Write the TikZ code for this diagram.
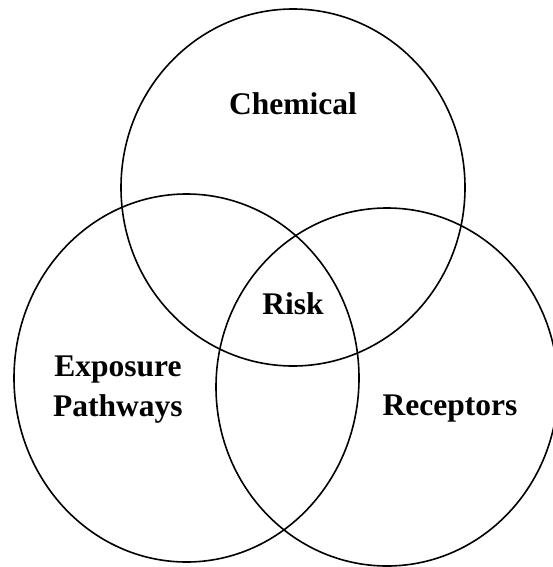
\documentclass[tikz,border=0pt]{standalone}
\usepackage{fontspec}
\setmainfont{Liberation Serif}
\begin{document}
\begin{tikzpicture}[x=1pt,y=-1pt,
  ring/.style={draw=black,line width=1.6pt},
  lbl/.style={font=\bfseries\fontsize{31.5}{40}\selectfont,align=center,inner sep=0pt}]
\useasboundingbox (0,0) rectangle (553,567);
\clip (0,0) rectangle (553,567);
\draw[ring] (293,187.5) ellipse [x radius=172, y radius=178.5];
\draw[ring] (186.5,378) ellipse [x radius=172.5, y radius=184];
\draw[ring] (387,387) ellipse [x radius=171, y radius=179];
\node[lbl] (chem) at (293,104) {Chemical};
\node[lbl] (risk) at (293,304) {Risk};
\node[lbl] (exp) at (118,390) {Exposure\\Pathways};
\node[lbl] (rec) at (450,409) {Receptors};
\end{tikzpicture}
\end{document}
